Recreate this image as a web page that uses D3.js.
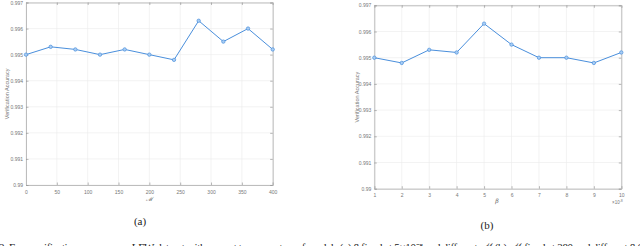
<!DOCTYPE html>
<html><head><meta charset="utf-8">
<script src="https://cdn.jsdelivr.net/npm/d3@7/dist/d3.min.js"></script>
<style>body{margin:0;background:#fff}svg{display:block}</style>
</head><body>
<svg id="c" width="640" height="246"></svg>
<script>
const mValues = [0,40,80,120,160,200,240,280,320,360,400];
const accA = [0.9950,0.9953,0.9952,0.9950,0.9952,0.9950,0.9948,0.9963,0.9955,0.9960,0.9952];
const betaValues = [1,2,3,4,5,6,7,8,9,10];
const accB = [0.9950,0.9948,0.9953,0.9952,0.9963,0.9955,0.9950,0.9950,0.9948,0.9952];
const yTicks = [0.990,0.991,0.992,0.993,0.994,0.995,0.996,0.997];
const yTickLabels = ["0.99","0.991","0.992","0.993","0.994","0.995","0.996","0.997"];
const xTicksA = [0,50,100,150,200,250,300,350,400];
const xTicksB = [1,2,3,4,5,6,7,8,9,10];

const svg = d3.select("#c");
const lineColor = "#4a8fdc";

function panel(cfg){
  const g = svg.append("g");
  const x = d3.scaleLinear().domain(cfg.xDomain).range([cfg.x0,cfg.x1]);
  const y = d3.scaleLinear().domain([0.990,0.997]).range([cfg.y1,cfg.y0]);
  g.selectAll(".gx").data(cfg.xTicks).join("line")
    .attr("x1",d=>x(d)).attr("x2",d=>x(d)).attr("y1",cfg.y0).attr("y2",cfg.y1)
    .attr("stroke","#ebebeb").attr("stroke-width",0.6);
  g.selectAll(".gy").data(yTicks).join("line")
    .attr("y1",d=>y(d)).attr("y2",d=>y(d)).attr("x1",cfg.x0).attr("x2",cfg.x1)
    .attr("stroke","#ebebeb").attr("stroke-width",0.6);
  const ax = d3.axisBottom(x).tickValues(cfg.xTicks).tickSize(-2.5).tickPadding(5).tickFormat(d3.format("d"));
  const axT = d3.axisTop(x).tickValues(cfg.xTicks).tickSize(-2.5).tickFormat("");
  const ay = d3.axisLeft(y).tickValues(yTicks).tickSize(-2.5).tickPadding(3).tickFormat((d,i)=>yTickLabels[i]);
  const ayR = d3.axisRight(y).tickValues(yTicks).tickSize(-2.5).tickFormat("");
  const style = sel=>{
    sel.select(".domain").attr("stroke","#bdbdbd").attr("stroke-width",1);
    sel.selectAll(".tick line").attr("stroke","#8a8a8a").attr("stroke-width",0.6);
    sel.selectAll(".tick text").attr("fill","#777").attr("font-size",5).attr("font-family","Liberation Sans, Arial, sans-serif");
  };
  g.append("g").attr("transform",`translate(0,${cfg.y1})`).call(ax).call(style);
  g.append("g").attr("transform",`translate(0,${cfg.y0})`).call(axT).call(style);
  g.append("g").attr("transform",`translate(${cfg.x0},0)`).call(ay).call(style);
  g.append("g").attr("transform",`translate(${cfg.x1},0)`).call(ayR).call(style);
  const line = d3.line().x(d=>x(d[0])).y(d=>y(d[1]));
  const pts = cfg.xs.map((v,i)=>[v,cfg.ys[i]]);
  g.append("path").datum(pts).attr("d",line).attr("fill","none").attr("stroke",lineColor).attr("stroke-width",1);
  g.selectAll(".pt").data(pts).join("circle")
    .attr("cx",d=>x(d[0])).attr("cy",d=>y(d[1])).attr("r",1.7)
    .attr("fill","#a9cdf3").attr("stroke",lineColor).attr("stroke-width",0.7);
  g.append("text").attr("transform",`translate(${cfg.ylabX},${(cfg.y0+cfg.y1)/2}) rotate(-90)`)
    .attr("text-anchor","middle").attr("font-size",5.5).attr("fill","#777")
    .attr("font-family","Liberation Sans, Arial, sans-serif").text("Verification Accuracy");
  return {g,x,y};
}

const A = panel({xDomain:[0,400], x0:26, x1:272.7, y0:2.5, y1:185, xTicks:xTicksA, xs:mValues, ys:accA, ylabX:9});
A.g.append("text").attr("x",149).attr("y",201).attr("text-anchor","middle")
  .attr("font-size",6).attr("font-style","italic").attr("fill","#666")
  .attr("font-family","DejaVu Serif, serif").text("\u2133");

const B = panel({xDomain:[1,10], x0:374.3, x1:621.3, y0:5.3, y1:188.7, xTicks:xTicksB, xs:betaValues, ys:accB, ylabX:358.5});
B.g.append("text").attr("x",497).attr("y",203).attr("text-anchor","middle")
  .attr("font-size",6).attr("font-style","italic").attr("fill","#666")
  .attr("font-family","DejaVu Serif, serif").text("\u03B2");
const ex = B.g.append("text").attr("x",612).attr("y",204).attr("font-size",4.5).attr("fill","#777")
  .attr("font-family","Liberation Sans, Arial, sans-serif");
ex.append("tspan").text("\u00D710");
ex.append("tspan").attr("dy",-2).attr("font-size",3.5).text("-8");

svg.append("text").attr("x",140).attr("y",225).attr("text-anchor","middle")
  .attr("font-size",11).attr("font-family","Liberation Serif, Times New Roman, serif").attr("fill","#222").text("(a)");
svg.append("text").attr("x",487).attr("y",229).attr("text-anchor","middle")
  .attr("font-size",11).attr("font-family","Liberation Serif, Times New Roman, serif").attr("fill","#222").text("(b)");
svg.append("text").attr("x",-1).attr("y",251).attr("font-size",11)
  .attr("font-family","Liberation Serif, Times New Roman, serif").attr("fill","#222")
  .attr("textLength",642).attr("lengthAdjust","spacing")
  .text("2.  Face verification accuracy on LFW dataset with respect to parameters of models (a) \u03B2 fixed at 5\u00D710\u207B\u2078 and different \u2133 (b) \u2133 fixed at 280 and different \u03B2 (");
</script>
</body></html>
